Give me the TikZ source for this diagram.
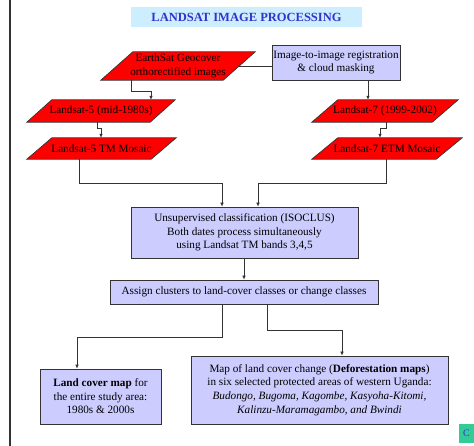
\documentclass[tikz,border=0pt]{standalone}
\usepackage{fontspec}
\setmainfont{Liberation Serif}
\usetikzlibrary{arrows.meta,backgrounds}
\definecolor{lav}{HTML}{CCCCFF}
\definecolor{titlebg}{HTML}{CCEEFF}
\definecolor{titlefg}{HTML}{3333CC}
\definecolor{teal}{HTML}{33CC99}
\definecolor{edge}{HTML}{333333}
\tikzset{
  base/.style={inner sep=0pt, align=center, font=\fontsize{11.2}{13.6}\selectfont},
  paratext/.style={base},
  lavbox/.style={base, draw=edge, line width=0.7pt, fill=lav},
  conn/.style={draw=edge, line width=0.7pt},
  arr/.style={conn, -{Latex[length=4pt,width=3.6pt]}},
  parashape/.style={fill=red, draw=edge, line width=0.7pt},
}
\newcommand\paraoutline[2]{% node name, slant
  \begin{pgfonlayer}{background}
    \path[parashape] ([xshift=#2]#1.north west) -- (#1.north east) -- ([xshift=-#2]#1.south east) -- (#1.south west) -- cycle;
  \end{pgfonlayer}}
\begin{document}
\begin{tikzpicture}[x=1pt,y=-1pt]
\useasboundingbox (0,0) rectangle (474,446);
\draw[edge, line width=1.4pt] (10,0) -- (10,446);

% title
\node[inner sep=0pt, fill=titlebg, minimum width=231pt, minimum height=20pt, text=titlefg,
      font=\fontsize{12.5}{14}\selectfont\bfseries] (title) at (246.5,17) {LANDSAT IMAGE PROCESSING};

% parallelograms
\node[paratext, minimum width=154pt, minimum height=28pt] (es) at (178,66) {EarthSat Geocover\\orthorectified images};
\paraoutline{es}{32pt}
\node[paratext, minimum width=148pt, minimum height=22pt] (l5) at (101,111) {Landsat-5 (mid-1980s)};
\paraoutline{l5}{25pt}
\node[paratext, minimum width=149pt, minimum height=21pt] (l5m) at (101.5,148.5) {Landsat-5 TM Mosaic};
\paraoutline{l5m}{25pt}
\node[paratext, minimum width=146pt, minimum height=22pt] (l7) at (385,111) {Landsat-7 (1999-2002)};
\paraoutline{l7}{26pt}
\node[paratext, minimum width=150pt, minimum height=21pt] (l7m) at (387,148.5) {Landsat-7 ETM Mosaic};
\paraoutline{l7m}{26pt}

% lavender boxes
\node[lavbox, minimum width=128pt, minimum height=35pt] (reg) at (336,62.5) {Image-to-image registration\\\& cloud masking};
\node[lavbox, minimum width=227pt, minimum height=51pt] (iso) at (244.5,232.5) {Unsupervised classification (ISOCLUS)\\Both dates process simultaneously\\using Landsat TM bands 3,4,5};
\node[lavbox, minimum width=268pt, minimum height=24pt] (asg) at (244,292) {Assign clusters to land-cover classes or change classes};
\node[lavbox, minimum width=121pt, minimum height=55pt] (lc) at (100.5,396.5) {\textbf{Land cover map} for\\the entire study area:\\1980s \& 2000s};
\node[lavbox, minimum width=257pt, minimum height=68pt] (map) at (319.5,390) {Map of land cover change (\textbf{Deforestation maps})\\in six selected protected areas of western Uganda:\\\textit{Budongo, Bugoma, Kagombe, Kasyoha-Kitomi,}\\\textit{Kalinzu-Maramagambo, and Bwindi}};

% corner mark
\node[inner sep=0pt, fill=teal, minimum width=15pt, minimum height=19pt, text=titlefg,
      font=\fontsize{10}{12}\selectfont] (cmark) at (466.5,433.5) {C};

% connectors
\draw[conn] ([xshift=-16pt]es.east) -- (reg.west |- es.east);
\draw[arr] (131,0 |- es.south) -- (131,91) -| (151,0 |- l5.north);
\draw[arr] (368,0 |- reg.south) -- (368,0 |- l7.north);
\draw[arr] (97,0 |- l5.south) -- (97,128) -| (101,0 |- l5m.north);
\draw[arr] (386,0 |- l7.south) -- (386,128) -| (380,0 |- l7m.north);
\draw[arr] (79,0 |- l5m.south) -- (79,183) -| (222,0 |- iso.north);
\draw[arr] (386,0 |- l7m.south) -- (386,183) -| (258,0 |- iso.north);
\draw[arr] (244,0 |- iso.south) -- (244,0 |- asg.north);
\draw[arr] (222,0 |- asg.south) -- (222,337) -| (77,0 |- lc.north);
\draw[arr] (267,0 |- asg.south) -- (267,330) -| (342,0 |- map.north);
\end{tikzpicture}
\end{document}
